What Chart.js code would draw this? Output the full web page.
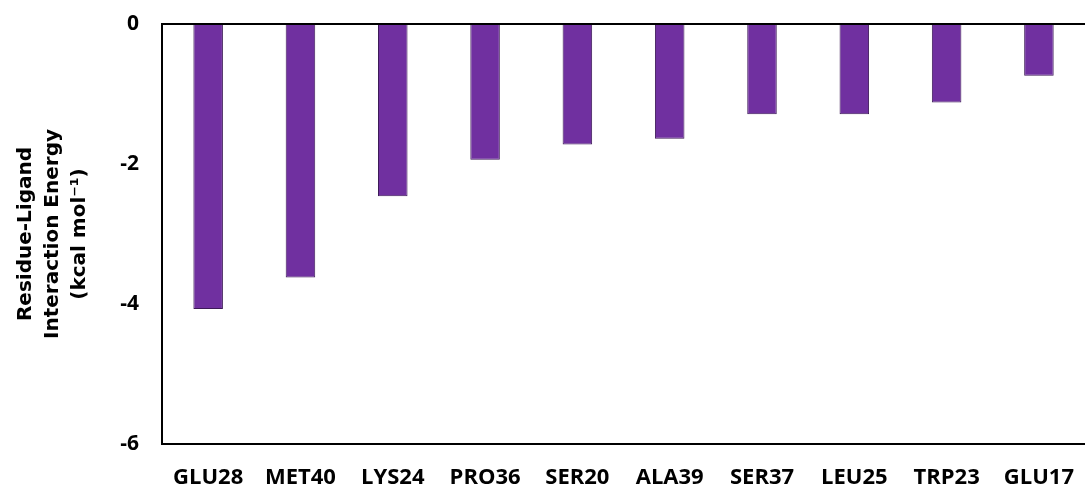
<!DOCTYPE html>
<html>
<head>
<meta charset="utf-8">
<script src="https://cdn.jsdelivr.net/npm/chart.js@4"></script>
<style>
  html, body { margin: 0; padding: 0; background: #fff; overflow: hidden; }
  #wrap { position: relative; width: 1095px; height: 490px; }
</style>
</head>
<body>
<div id="wrap"><canvas id="chart"></canvas></div>
<script>
// Residues ranked by their interaction energy with the ligand
const residues = ['GLU28', 'MET40', 'LYS24', 'PRO36', 'SER20', 'ALA39', 'SER37', 'LEU25', 'TRP23', 'GLU17'];
const energies = [-4.07, -3.62, -2.46, -1.94, -1.72, -1.64, -1.29, -1.29, -1.12, -0.74];
const yTickValues = [0, -2, -4, -6];
const yTitleLines = ['Residue-Ligand', 'Interaction Energy', '(kcal mol\u207B\u00B9)'];

const barFill = '#7030A0';
const barEdge = '#3d1a58';

new Chart(document.getElementById('chart'), {
  type: 'bar',
  data: {
    labels: residues,
    datasets: [{
      data: energies,
      backgroundColor: barFill,
      borderColor: barEdge,
      borderWidth: 1,
      barPercentage: 0.32,
      categoryPercentage: 1.0
    }]
  },
  options: {
    responsive: true,
    maintainAspectRatio: false,
    animation: false,
    layout: { padding: { top: 24, left: 0, right: 0, bottom: 0 } },
    plugins: { legend: { display: false }, tooltip: { enabled: false } },
    scales: {
      x: {
        position: 'bottom',
        grid: { display: false, drawTicks: false },
        border: { display: true, color: '#000', width: 2 },
        ticks: {
          color: '#000',
          padding: 21,
          maxRotation: 0,
          autoSkip: false,
          font: { family: '"Open Sans", sans-serif', weight: 'bold', size: 22 }
        },
        afterFit: (scale) => { scale.height = 46; }
      },
      y: {
        min: Math.min(...yTickValues),
        max: Math.max(...yTickValues),
        afterBuildTicks: (scale) => { scale.ticks = yTickValues.map(v => ({ value: v })); },
        grid: {
          drawTicks: false,
          color: (ctx) => (ctx.tick && ctx.tick.value === 0 ? '#000' : 'rgba(0,0,0,0)'),
          lineWidth: 2
        },
        border: { display: true, color: '#000', width: 2 },
        ticks: {
          color: '#000',
          padding: 23,
          font: { family: '"Open Sans", sans-serif', weight: 'bold', size: 21 },
          callback: (v) => String(v)
        },
        title: {
          display: true,
          text: yTitleLines,
          color: '#000',
          padding: { top: 12, bottom: 0 },
          font: { family: '"DejaVu Sans", sans-serif', weight: 'bold', size: 20, lineHeight: 1.35 }
        },
        afterFit: (scale) => {
          scale.width = 162;
          scale.paddingTop = 0;
          scale.paddingBottom = 0;
        }
      }
    }
  }
});
</script>
</body>
</html>
